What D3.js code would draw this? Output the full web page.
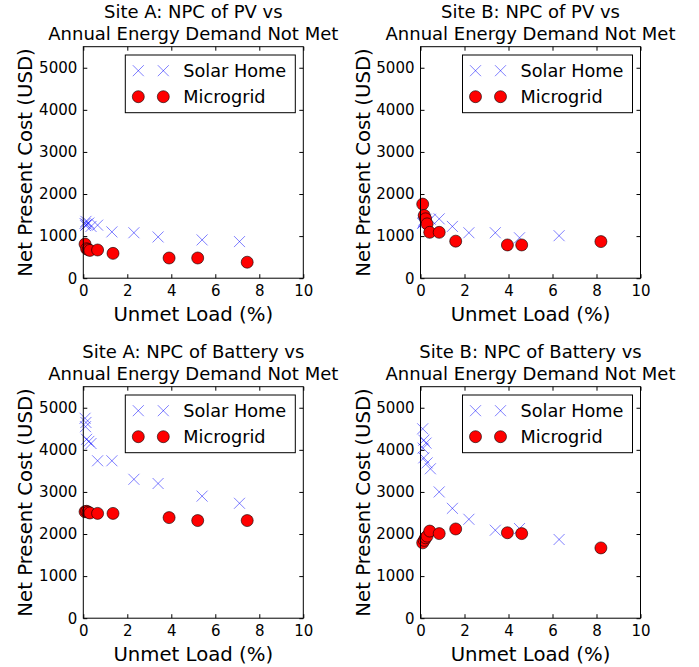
<!DOCTYPE html>
<html><head><meta charset="utf-8">
<script src="https://cdn.jsdelivr.net/npm/d3@7"></script>
<style>body{margin:0;background:#fff}svg{display:block}text{font-family:"DejaVu Sans",sans-serif}</style>
</head><body>
<script>
// ---- Data ----
const xTicks = [0, 2, 4, 6, 8, 10];
const yTicks = [0, 1000, 2000, 3000, 4000, 5000];
const seriesNames = ["Solar Home", "Microgrid"];

// Site A
const siteA_solar_unmet = [0.08, 0.12, 0.1, 0.15, 0.25, 0.35, 0.65, 1.3, 2.3, 3.4, 5.4, 7.1];
const siteA_solar_pv    = [1300, 1350, 1250, 1280, 1310, 1230, 1260, 1100, 1080, 980, 910, 870];
const siteA_solar_batt  = [4750, 4650, 4550, 4250, 4200, 4150, 3740, 3740, 3300, 3200, 2900, 2730];
const siteA_micro_unmet = [0.08, 0.15, 0.22, 0.3, 0.65, 1.35, 3.9, 5.2, 7.45];
const siteA_micro_pv    = [810, 700, 680, 660, 670, 590, 480, 480, 380];
const siteA_micro_batt  = [2530, 2540, 2520, 2500, 2490, 2490, 2390, 2320, 2320];

// Site B
const siteB_solar_unmet = [0.1, 0.15, 0.25, 0.12, 0.15, 0.3, 0.45, 0.85, 1.45, 2.2, 3.4, 4.5, 6.3];
const siteB_solar_pv    = [1300, 1350, 1400, 1320, 1380, 1330, 1400, 1410, 1230, 1080, 1080, 960, 1010];
const siteB_solar_batt  = [4500, 4230, 4160, 4040, 3810, 3690, 3550, 3000, 2610, 2350, 2090, 2130, 1870];
const siteB_micro_unmet = [0.1, 0.17, 0.23, 0.3, 0.42, 0.85, 1.6, 3.95, 4.6, 8.2];
const siteB_micro_pv    = [1760, 1490, 1410, 1290, 1090, 1090, 880, 790, 790, 870];
const siteB_micro_batt  = [1790, 1850, 1910, 1950, 2070, 2010, 2120, 2030, 2010, 1670];

const titles = [
  ["Site A: NPC of PV vs", "Annual Energy Demand Not Met"],
  ["Site B: NPC of PV vs", "Annual Energy Demand Not Met"],
  ["Site A: NPC of Battery vs", "Annual Energy Demand Not Met"],
  ["Site B: NPC of Battery vs", "Annual Energy Demand Not Met"]
];
const xLabel = "Unmet Load (%)";
const yLabel = "Net Present Cost (USD)";

const panels = [
  {title: titles[0], sx: siteA_solar_unmet, sy: siteA_solar_pv,   mx: siteA_micro_unmet, my: siteA_micro_pv},
  {title: titles[1], sx: siteB_solar_unmet, sy: siteB_solar_pv,   mx: siteB_micro_unmet, my: siteB_micro_pv},
  {title: titles[2], sx: siteA_solar_unmet, sy: siteA_solar_batt, mx: siteA_micro_unmet, my: siteA_micro_batt},
  {title: titles[3], sx: siteB_solar_unmet, sy: siteB_solar_batt, mx: siteB_micro_unmet, my: siteB_micro_batt}
];

// ---- Layout ----
const W = 699, H = 667;
const lefts = [83.3, 420.5], tops = [46.7, 386.7];
const pw = 220, ph = 231.5;

const svg = d3.select("body").append("svg").attr("width", W).attr("height", H);

const crossColor = "rgba(0,0,255,0.5)";
const xs = 5.5;

function drawCross(g, cx, cy) {
  g.append("path")
    .attr("d", `M${cx - xs},${cy - xs}L${cx + xs},${cy + xs}M${cx - xs},${cy + xs}L${cx + xs},${cy - xs}`)
    .attr("stroke", crossColor).attr("stroke-width", 1).attr("fill", "none");
}
function drawCircle(g, cx, cy) {
  g.append("circle").attr("cx", cx).attr("cy", cy).attr("r", 6)
    .attr("fill", "#ff0000").attr("stroke", "#000").attr("stroke-width", 0.6);
}

const fmt = d3.format("d");

panels.forEach((p, i) => {
  const L = lefts[i % 2], T = tops[Math.floor(i / 2)];
  const x = d3.scaleLinear().domain([0, 10]).range([0, pw]);
  const y = d3.scaleLinear().domain([0, 5500]).range([ph, 0]);
  const g = svg.append("g").attr("transform", `translate(${L},${T})`);

  // axes
  const fs = "15px";
  const bx = g.append("g").attr("transform", `translate(0,${ph})`)
    .call(d3.axisBottom(x).tickValues(xTicks).tickFormat(fmt).tickSizeInner(-4).tickSizeOuter(0).tickPadding(7));
  const lx = g.append("g")
    .call(d3.axisLeft(y).tickValues(yTicks).tickFormat(fmt).tickSizeInner(-4).tickSizeOuter(0).tickPadding(6));
  const tx = g.append("g")
    .call(d3.axisTop(x).tickValues(xTicks).tickSizeInner(-4).tickSizeOuter(0).tickFormat(""));
  const rx = g.append("g").attr("transform", `translate(${pw},0)`)
    .call(d3.axisRight(y).tickValues(yTicks).tickSizeInner(-4).tickSizeOuter(0).tickFormat(""));
  [bx, lx, tx, rx].forEach(a => {
    a.select(".domain").remove();
    a.selectAll("text").attr("font-size", fs).attr("fill", "#000").attr("font-family", '"DejaVu Sans",sans-serif');
    a.selectAll("line").attr("stroke", "#000");
  });

  // data
  const dg = g.append("g");
  p.sx.forEach((v, k) => drawCross(dg, x(v), y(p.sy[k])));
  p.mx.forEach((v, k) => drawCircle(dg, x(v), y(p.my[k])));

  // frame
  g.append("rect").attr("width", pw).attr("height", ph)
    .attr("fill", "none").attr("stroke", "#000").attr("stroke-width", 1);

  // legend
  const lw = 170, lh = 57.7;
  const lg = g.append("g").attr("transform", `translate(${pw - 8 - lw},8.3)`);
  lg.append("rect").attr("width", lw).attr("height", lh).attr("fill", "#fff").attr("stroke", "#000").attr("stroke-width", 1);
  [15.7, 41.7].forEach((ry, r) => {
    [13, 38].forEach(mx => { if (r === 0) drawCross(lg, mx, ry); else drawCircle(lg, mx, ry); });
    lg.append("text").attr("x", 58).attr("y", ry).attr("dy", "0.36em")
      .attr("font-size", "17.7px").text(seriesNames[r]);
  });

  // title (two separate lines)
  g.append("text").attr("text-anchor", "middle").attr("font-size", "18px")
    .attr("x", pw / 2).attr("y", -28.5).text(p.title[0]);
  g.append("text").attr("text-anchor", "middle").attr("font-size", "18px")
    .attr("x", pw / 2).attr("y", -7).text(p.title[1]);

  // x label
  g.append("text").attr("x", pw / 2).attr("y", ph + 43).attr("text-anchor", "middle")
    .attr("font-size", "19.7px").text(xLabel);
  // y label
  g.append("text").attr("transform", `translate(-51,${ph / 2}) rotate(-90)`)
    .attr("text-anchor", "middle").attr("font-size", "19.7px").text(yLabel);
});
</script>
</body></html>
